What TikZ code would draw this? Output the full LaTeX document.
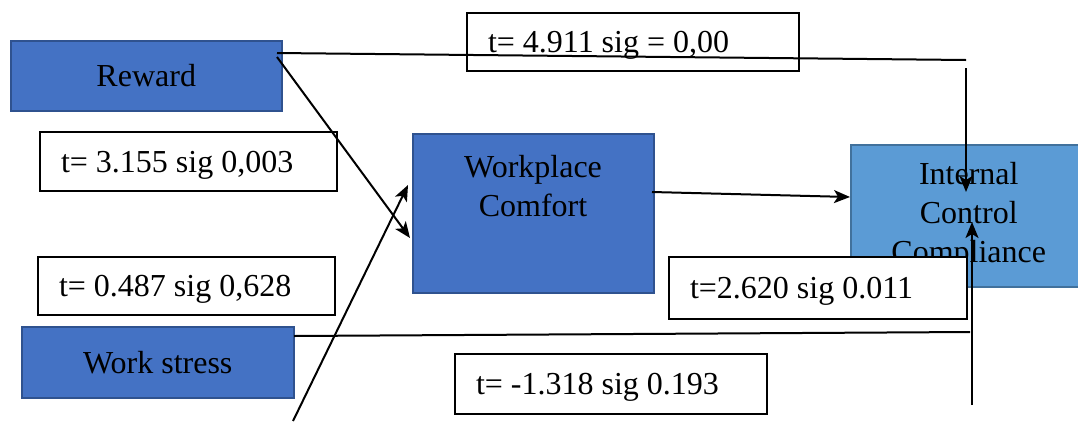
\documentclass[tikz,border=0pt]{standalone}
\usepackage{fontspec}
\setmainfont{Liberation Serif}
\usetikzlibrary{arrows.meta}
\definecolor{boxblue}{HTML}{4472C4}
\definecolor{boxedge}{HTML}{2F528F}
\definecolor{lightblue}{HTML}{5B9BD5}
\definecolor{lightedge}{HTML}{41719C}
\begin{document}
\begin{tikzpicture}[x=1pt,y=-1pt,
  every node/.style={font=\fontsize{32}{39}\selectfont},
  bluebox/.style={draw=boxedge, fill=boxblue, line width=1.5pt, anchor=north west, inner sep=0pt, align=center},
  iccbox/.style={draw=lightedge, fill=lightblue, line width=1.5pt, anchor=north west, inner sep=0pt, align=center},
  lbl/.style={draw=black, fill=white, line width=2pt, anchor=north west, inner xsep=21pt, inner ysep=0pt, text depth=0pt, align=flush left},
  conn/.style={line width=2pt},
  arr/.style={conn, -{Stealth[length=16pt,width=13pt,inset=4pt]}}
]
\useasboundingbox (0,0) rectangle (1078,421);
% main boxes
\node[bluebox, minimum width=271pt, minimum height=70pt] (rw) at (10,40) {Reward};
\node[bluebox, minimum width=241pt, minimum height=159pt] (wc) at (412,133) {};
\node[align=center, inner sep=0pt] (wct) at (533,186) {Workplace\\Comfort};
\node[iccbox, minimum width=236pt, minimum height=142pt] (icc) at (850,144) {Internal\\Control\\Compliance};
\node[bluebox, minimum width=272pt, minimum height=71pt] (ws) at (21,326) {Work stress};
% labels
\node[lbl, text width=290pt, minimum height=58pt] (l1) at (466,12) {t= 4.911 sig = 0,00};
\node[lbl, text width=255pt, minimum height=59pt] (l2) at (39,131) {t= 3.155 sig 0,003};
\node[lbl, text width=255pt, minimum height=58pt] (l3) at (37,256) {t= 0.487 sig 0,628};
\node[lbl, text width=256pt, minimum height=62pt] (l4) at (668,256) {t=2.620 sig 0.011};
\node[lbl, text width=270pt, minimum height=60pt] (l5) at (454,353) {t= -1.318 sig 0.193};
% connector end points
\coordinate (rwA) at (277,53);
\coordinate (rwB) at (277,57);
\coordinate (topEnd) at (966,60);
\coordinate (topDown) at (966,68);
\coordinate (iccTip1) at (966,192);
\coordinate (wcTip1) at (410,238);
\coordinate (wsFree) at (293,421);
\coordinate (wcTip2) at (408,185);
\coordinate (wcOut) at (652,192);
\coordinate (iccIn) at (850,197);
\coordinate (wsOut) at (294,336);
\coordinate (wsEnd) at (970,332);
\coordinate (botFree) at (972,405);
\coordinate (iccTip2) at (972,222);
% connectors
\draw[conn] (rwA) -- (topEnd);
\draw[arr] (topDown) -- (iccTip1);
\draw[arr] (rwB) -- (wcTip1);
\draw[arr] (wsFree) -- (wcTip2);
\draw[arr] (wcOut) -- (iccIn);
\draw[conn] (wsOut) -- (wsEnd);
\draw[arr] (botFree) -- (iccTip2);
\end{tikzpicture}
\end{document}
